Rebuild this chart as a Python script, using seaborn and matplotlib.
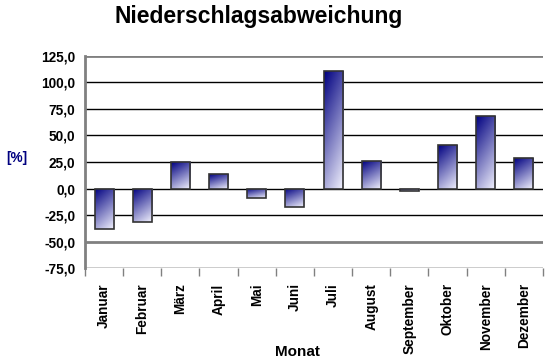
import numpy as np
import matplotlib
matplotlib.use('Agg')
import matplotlib.pyplot as plt
from matplotlib.colors import LinearSegmentedColormap
import seaborn as sns

months = ['Januar', 'Februar', 'März', 'April', 'Mai', 'Juni',
          'Juli', 'August', 'September', 'Oktober', 'November', 'Dezember']
deviation = [-38.2, -31.3, 25.1, 13.5, -9.4, -17.5,
             110.7, 25.5, -2.3, 40.6, 68.5, 28.6]
y_ticks = [-75, -50, -25, 0, 25, 50, 75, 100, 125]

sns.set_style('white')
plt.rcParams['font.family'] = ['Liberation Sans', 'DejaVu Sans']
plt.rcParams['font.weight'] = 'bold'
plt.rcParams['text.color'] = 'black'
plt.rcParams['xtick.labelcolor'] = 'black'
plt.rcParams['ytick.labelcolor'] = 'black'

fig = plt.figure(figsize=(5.5, 3.61), dpi=100)
ax = fig.add_axes([0.1545, 0.2576, 0.8327, 0.5873])

sns.barplot(x=months, y=deviation, ax=ax, width=0.5, color='white',
            edgecolor='#333333', linewidth=1.2, zorder=3)

ax.set_xlim(-0.5, 11.5)
ax.set_ylim(-75, 125)
ax.autoscale(False)

# gradient fill: dark navy at top-left, near white at bottom-right
cmap = LinearSegmentedColormap.from_list('navy_white', ['#000080', '#f4f4ff'])
yy, xx = np.mgrid[0:1:100j, 0:1:100j]
grad = 0.3 * xx + 0.7 * yy
for p in ax.patches:
    p.set_facecolor('none')
    x0, y0 = p.get_x(), p.get_y()
    w, h = p.get_width(), p.get_height()
    top, bottom = max(y0, y0 + h), min(y0, y0 + h)
    im = ax.imshow(grad, cmap=cmap, vmin=0, vmax=1, aspect='auto',
                   extent=[x0, x0 + w, bottom, top], origin='upper',
                   interpolation='bilinear', zorder=2)
    im.set_clip_path(p)

# horizontal grid lines
for v in y_ticks:
    if v in (125, -50):
        ax.axhline(v, color='#808080', lw=2, zorder=1)
    else:
        ax.axhline(v, color='black', lw=1, zorder=1)

for s in ['top', 'right', 'bottom']:
    ax.spines[s].set_visible(False)
ax.spines['left'].set_color('#808080')
ax.spines['left'].set_linewidth(2)

ax.set_yticks(y_ticks)
ax.set_yticklabels([f'{v:.1f}'.replace('.', ',') for v in y_ticks])
ax.tick_params(axis='y', direction='out', length=5, width=1, color='black',
               pad=2, labelsize=9.8, labelcolor='black')

ax.set_xticks(range(len(months)))
ax.set_xticklabels(months, rotation=90, fontsize=9.8, va='top')
ax.set_xticks(np.arange(-0.5, 12, 1), minor=True)
ax.tick_params(axis='x', which='major', length=0, pad=11, labelcolor='black')
ax.tick_params(axis='x', which='minor', direction='out', length=6, width=1,
               color='#808080', bottom=True)
ax.set_xlabel('')
ax.set_ylabel('')

fig.text(259 / 550, 1 - 16 / 361, 'Niederschlagsabweichung', ha='center',
         va='center', fontsize=16.5, fontweight='bold', color='black')
fig.text(17 / 550, 1 - 158 / 361, '[%]', ha='center', va='center',
         fontsize=9.8, fontweight='bold', color='#000080')
fig.text(297 / 550, 1 - 352 / 361, 'Monat', ha='center', va='center',
         fontsize=11, fontweight='bold', color='black')

fig.savefig('out.png', dpi=100, facecolor='white')
